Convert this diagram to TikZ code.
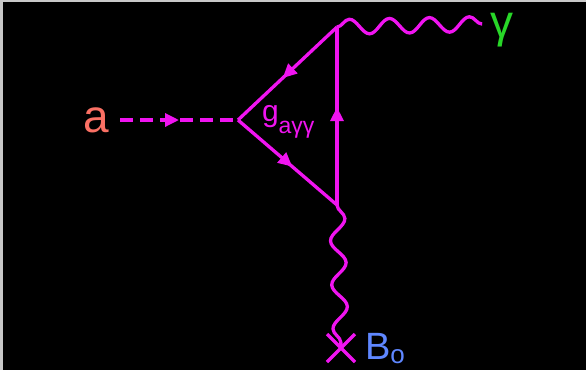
\documentclass[tikz,border=0pt]{standalone}
\usepackage{fontspec}
\setmainfont{Liberation Sans}
\usetikzlibrary{arrows.meta,decorations.pathmorphing,decorations.markings,shapes.misc}
\definecolor{loopcolor}{RGB}{240,20,240}
\definecolor{axioncolor}{RGB}{250,112,100}
\definecolor{photoncolor}{RGB}{40,215,40}
\definecolor{fieldcolor}{RGB}{95,135,255}
\definecolor{edgecolor}{RGB}{200,200,200}
\tikzset{
  midarrow/.style={postaction={decorate},decoration={markings,mark=at position #1 with {\arrow{Triangle[length=14bp,width=13bp]}}}},
  fermion/.style={draw=loopcolor,line width=3.3bp,midarrow=0.55},
  scalar/.style={draw=loopcolor,line width=3.3bp,dash pattern=on 13bp off 7bp,midarrow=0.5},
  photon/.style={draw=loopcolor,line width=3.3bp,decorate,decoration={snake,segment length=#1,amplitude=7.5bp}},
}

\begin{document}
\begin{tikzpicture}[x=1bp,y=-1bp,inner sep=0pt,outer sep=0pt]
  \useasboundingbox (0,0) rectangle (586,370);
  \fill[fill=edgecolor] (0,0) rectangle (586,370);
  \fill[fill=black] (3,2) rectangle (586,370);
  \coordinate (atail) at (120,120);
  \coordinate (vleft) at (238,120);
  \coordinate (vtop) at (337,27);
  \coordinate (vbot) at (337,205);
  \coordinate (gammaend) at (482,24);
  \node[cross out,draw=loopcolor,line width=3.3bp,minimum size=28bp] (bfield) at (341,348) {};
  \node[text=axioncolor] (alabel) at (96,120) {{\fontsize{46bp}{50bp}\selectfont a}};
  \node[text=photoncolor] (gammalabel) at (502,30) {{\fontsize{46bp}{50bp}\selectfont γ}};
  \node[anchor=base west,text=loopcolor] (couplabel) at (262,121) {{\fontsize{30bp}{32bp}\selectfont g}\raisebox{-12bp}{\fontsize{23bp}{26bp}\selectfont aγγ}};
  \node[anchor=base west,text=fieldcolor] (blabel) at (365,359) {{\fontsize{38bp}{40bp}\selectfont B}\raisebox{-4bp}{\fontsize{26bp}{30bp}\selectfont o}};
  \draw[scalar] (atail) -- (vleft);
  \draw[fermion] (vtop) -- (vleft);
  \draw[fermion] (vleft) -- (vbot);
  \draw[fermion] (vbot) -- (vtop);
  \draw[photon=40bp] (vtop) -- (gammaend);
  \draw[photon=44bp] (vbot) -- (bfield.center);
\end{tikzpicture}
\end{document}
